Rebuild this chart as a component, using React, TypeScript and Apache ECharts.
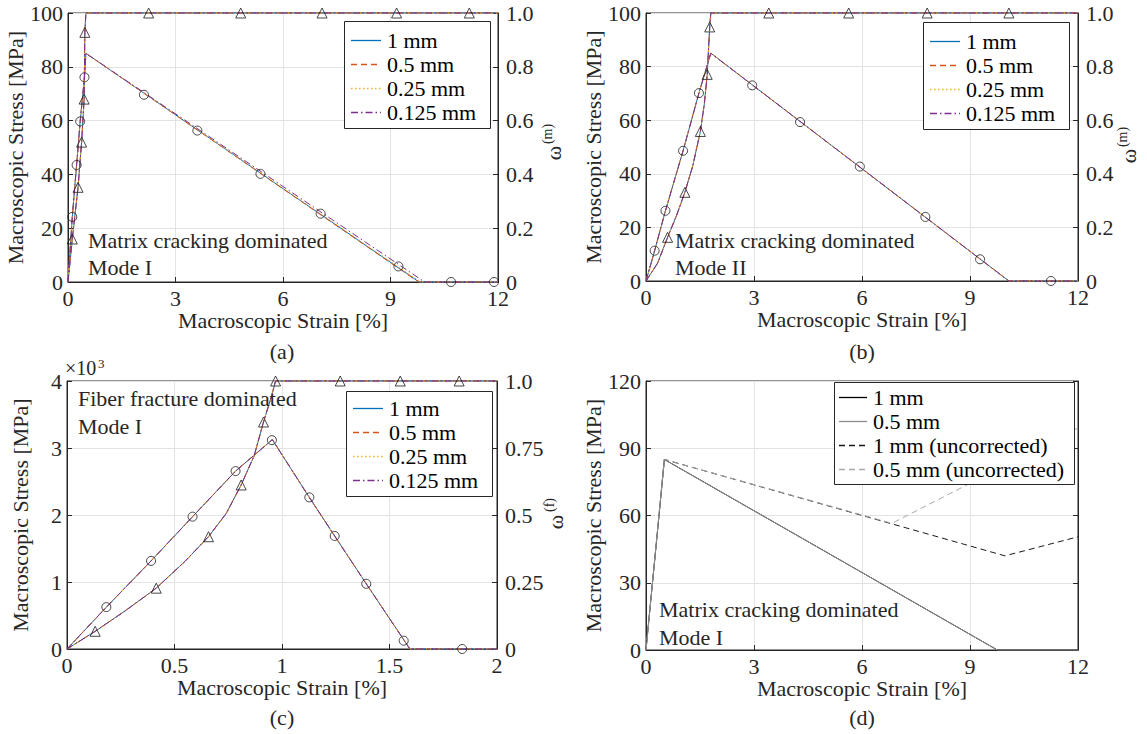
import React, { useEffect, useRef } from 'react';
import * as echarts from 'echarts';

const FONT = '"Liberation Serif", "Times New Roman", serif';
const FS = 22;
const INK = '#262626';
const GRIDC = '#e3e3e3';

const meshNames = ['1 mm', '0.5 mm', '0.25 mm', '0.125 mm'];
const meshColors = ['#0072BD', '#D95319', '#EDB120', '#7E2F8E'];
const meshDash: any[] = ['solid', [6, 4], [1.5, 2.5], [7, 3, 1.5, 3]];

// ---- (a) Matrix cracking, Mode I ----
const aStrain = [0, 0.12, 0.24, 0.34, 0.46, 0.5, 9.8, 12];
const aStress = [0, 24.2, 43.5, 59.7, 76.1, 85, 0, 0];
const aFailStrain = [9.8, 9.78, 9.84, 9.95];
const aDmgStrain = [0, 0.12, 0.28, 0.38, 0.45, 0.47, 0.5, 12];
const aDmg = [0, 0.16, 0.352, 0.52, 0.68, 0.928, 1, 1];
const aCircX = [0.12, 0.24, 0.34, 0.46, 2.12, 3.61, 5.37, 7.05, 9.22, 10.69, 11.89];
const aCircY = [24.2, 43.5, 59.7, 76.1, 69.6, 56.3, 40.2, 25.4, 5.8, 0, 0];
const aTriX = [0.12, 0.28, 0.38, 0.45, 0.47, 2.25, 4.82, 7.09, 9.17, 11.2];
const aTriY = [0.16, 0.352, 0.52, 0.68, 0.928, 1, 1, 1, 1, 1];

// ---- (b) Matrix cracking, Mode II ----
const bStrain = [0, 0.24, 0.54, 1.03, 1.47, 1.8, 10.08, 12];
const bStress = [0, 11.3, 26.2, 48.6, 70.1, 85, 0, 0];
const bDmgStrain = [0, 0.32, 0.6, 0.85, 1.08, 1.3, 1.51, 1.62, 1.7, 1.77, 1.8, 12];
const bDmg = [0, 0.066, 0.163, 0.245, 0.331, 0.43, 0.558, 0.66, 0.771, 0.948, 1, 1];
const bCircX = [0.24, 0.54, 1.03, 1.47, 2.95, 4.28, 5.94, 7.76, 9.28, 11.25];
const bCircY = [11.3, 26.2, 48.6, 70.1, 73, 59.3, 42.7, 23.9, 8.1, 0];
const bTriX = [0.6, 1.08, 1.51, 1.7, 1.77, 3.41, 5.63, 7.81, 10.08];
const bTriY = [0.163, 0.331, 0.558, 0.771, 0.948, 1, 1, 1, 1];

// ---- (c) Fiber fracture, Mode I ----
const cStrain = [0, 0.183, 0.391, 0.584, 0.784, 0.955, 1.127, 1.245, 1.392, 1.595, 2];
const cStress = [0, 625, 1315, 1975, 2655, 3125, 2263, 1687, 973, 0, 0];
const cDmgStrain = [0, 0.131, 0.27, 0.415, 0.55, 0.658, 0.74, 0.81, 0.87, 0.914, 0.95, 0.97, 2];
const cDmg = [0, 0.066, 0.142, 0.227, 0.328, 0.419, 0.505, 0.612, 0.72, 0.847, 0.94, 1, 1];
const cCircX = [0.183, 0.391, 0.584, 0.784, 0.953, 1.127, 1.245, 1.392, 1.566, 1.838];
const cCircY = [625, 1315, 1975, 2655, 3117, 2263, 1687, 973, 124, 0];
const cTriX = [0.131, 0.415, 0.658, 0.81, 0.914, 0.97, 1.271, 1.55, 1.824];
const cTriY = [0.066, 0.227, 0.419, 0.612, 0.847, 1, 1, 1, 1];

// ---- (d) corrected vs uncorrected ----
const dNames = ['1 mm', '0.5 mm', '1 mm (uncorrected)', '0.5 mm (uncorrected)'];
const dColors = ['#000000', '#8c8c8c', '#1a1a1a', '#a8a8a8'];
const dDash: any[] = ['solid', 'solid', [6, 4], [6, 4]];
const dStrain1 = [0, 0.51, 9.76, 12];
const dStress1 = [0, 85, 0, 0];
const dStrain05 = [0, 0.51, 9.76, 12];
const dStress05 = [0, 85, 0, 0];
const dStrainU1 = [0, 0.51, 9.97, 12];
const dStressU1 = [0, 85, 42, 50.5];
const dStrainU05 = [0, 0.51, 6.83, 12];
const dStressU05 = [0, 85, 56.5, 99];

const pairs = (xs: number[], ys: number[]) => xs.map((x, i) => [x, ys[i]]);

const lineS = (name: string, xs: number[], ys: number[], xi: number, yi: number, color: string, dash: any, z = 2) => ({
  type: 'line', name, xAxisIndex: xi, yAxisIndex: yi, data: pairs(xs, ys),
  symbol: 'none', silent: true, clip: false, z,
  lineStyle: { color, width: 1, type: dash }, itemStyle: { color },
});

const markS = (xs: number[], ys: number[], xi: number, yi: number, symbol: string, size: number) => ({
  type: 'scatter', xAxisIndex: xi, yAxisIndex: yi, data: pairs(xs, ys), symbol, symbolSize: size,
  silent: true, clip: false, z: 6,
  itemStyle: { color: 'rgba(0,0,0,0)', borderColor: '#1a1a1a', borderWidth: 1 },
});

const axisBase = {
  axisLine: { show: true, onZero: false, lineStyle: { color: INK, width: 1 } },
  axisTick: { show: true, inside: true, length: 5, lineStyle: { color: INK } },
  nameTextStyle: { fontFamily: FONT, fontSize: FS, color: INK },
};

const xAx = (gridIndex: number, max: number, interval: number) => ({
  ...axisBase, type: 'value', gridIndex, min: 0, max, interval,
  name: 'Macroscopic Strain [%]', nameLocation: 'middle', nameGap: 25,
  axisLabel: { fontFamily: FONT, fontSize: FS, color: INK, margin: 8, lineHeight: 16 },
  splitLine: { show: true, lineStyle: { color: GRIDC, width: 1 } },
});

const yLeft = (gridIndex: number, max: number, interval: number, formatter?: any) => ({
  ...axisBase, type: 'value', gridIndex, position: 'left', min: 0, max, interval,
  name: 'Macroscopic Stress [MPa]', nameLocation: 'middle', nameGap: 36,
  axisLabel: { fontFamily: FONT, fontSize: FS, color: INK, margin: 5, lineHeight: 16, formatter },
  splitLine: { show: true, lineStyle: { color: GRIDC, width: 1 } },
});

const yRight = (gridIndex: number, max: number, interval: number, formatter: any, showLabel = true) => ({
  ...axisBase, type: 'value', gridIndex, position: 'right', min: 0, max, interval,
  axisLabel: { show: showLabel, fontFamily: FONT, fontSize: FS, color: INK, margin: 8, lineHeight: 15, formatter },
  splitLine: { show: false },
});

const fmt1 = (v: number) => (v === 0 ? '0' : v.toFixed(1));
const fmtQ = (v: number) => (v === 0 ? '0' : v === 1 ? '1.0' : String(v));

const txt = (x: number, y: number, text: string, extra: any = {}) => ({
  type: 'text', x, y, silent: true, z: 120,
  style: { text, fontFamily: FONT, fontSize: FS, fill: INK, align: 'left', verticalAlign: 'middle', ...extra },
});
const rtxt = (x: number, y: number, text: string, size: number) => ({
  type: 'text', x, y, rotation: Math.PI / 2, silent: true, z: 120,
  style: { text, fontFamily: FONT, fontSize: size, fill: INK, align: 'center', verticalAlign: 'middle' },
});

// Legend drawn as a boxed key: box position/size, first row centre, row step, sample and text offsets
const legendBox = (
  names: string[], colors: string[], dashes: any[],
  x: number, y: number, w: number, h: number, row0: number, step: number,
  s0: number, s1: number, tx: number,
) => {
  const els: any[] = [
    { type: 'rect', silent: true, z: 100, shape: { x: x + 0.5, y: y + 0.5, width: w, height: h },
      style: { fill: '#ffffff', stroke: INK, lineWidth: 1 } },
  ];
  names.forEach((n, i) => {
    const yy = Math.round(y + row0 + i * step) + 0.5;
    els.push({ type: 'line', silent: true, z: 110,
      shape: { x1: x + s0, y1: yy, x2: x + s1, y2: yy },
      style: { stroke: colors[i], lineWidth: 1.3, lineDash: dashes[i] === 'solid' ? null : dashes[i] } });
    els.push(txt(x + tx, yy, n, { fill: '#000' }));
  });
  return els;
};

function buildOption() {
  const series: any[] = [];
  // (a)
  meshNames.forEach((m, i) => {
    const xs = aStrain.map((x, k) => (k === 6 ? aFailStrain[i] : x));
    series.push(lineS(`a ${m}`, xs, aStress, 0, 0, meshColors[i], meshDash[i]));
    series.push(lineS(`a ω ${m}`, aDmgStrain, aDmg, 0, 1, meshColors[i], meshDash[i]));
  });
  series.push(markS(aCircX, aCircY, 0, 0, 'circle', 9));
  series.push(markS(aTriX, aTriY, 0, 1, 'triangle', 10));
  // (b)
  meshNames.forEach((m, i) => {
    series.push(lineS(`b ${m}`, bStrain, bStress, 1, 2, meshColors[i], meshDash[i]));
    series.push(lineS(`b ω ${m}`, bDmgStrain, bDmg, 1, 3, meshColors[i], meshDash[i]));
  });
  series.push(markS(bCircX, bCircY, 1, 2, 'circle', 9));
  series.push(markS(bTriX, bTriY, 1, 3, 'triangle', 10));
  // (c)
  meshNames.forEach((m, i) => {
    series.push(lineS(`c ${m}`, cStrain, cStress, 2, 4, meshColors[i], meshDash[i]));
    series.push(lineS(`c ω ${m}`, cDmgStrain, cDmg, 2, 5, meshColors[i], meshDash[i]));
  });
  series.push(markS(cCircX, cCircY, 2, 4, 'circle', 9));
  series.push(markS(cTriX, cTriY, 2, 5, 'triangle', 10));
  // (d)
  const dX = [dStrain1, dStrain05, dStrainU1, dStrainU05];
  const dY = [dStress1, dStress05, dStressU1, dStressU05];
  dNames.forEach((m, i) => {
    series.push(lineS(`d ${m}`, dX[i], dY[i], 3, 6, dColors[i], dDash[i], i === 1 ? 4 : 2));
  });

  return {
    animation: false,
    backgroundColor: '#ffffff',
    textStyle: { fontFamily: FONT, fontSize: FS, color: INK },
    grid: [
      { left: 68, top: 13, width: 430, height: 269 },
      { left: 646, top: 13, width: 432, height: 268 },
      { left: 67, top: 381, width: 430, height: 268 },
      { left: 646, top: 381, width: 432, height: 269 },
    ].map((g) => ({ ...g, show: true, borderColor: INK, borderWidth: 1, backgroundColor: 'transparent' })),
    xAxis: [xAx(0, 12, 3), xAx(1, 12, 3), xAx(2, 2, 0.5), xAx(3, 12, 3)],
    yAxis: [
      yLeft(0, 100, 20),
      yRight(0, 1, 0.2, fmt1),
      yLeft(1, 100, 20),
      yRight(1, 1, 0.2, fmt1),
      yLeft(2, 4000, 1000, (v: number) => String(v / 1000)),
      yRight(2, 1, 0.25, fmtQ),
      yLeft(3, 120, 30),
      yRight(3, 120, 30, undefined, false),
    ],
    series,
    graphic: [
      ...legendBox(meshNames, meshColors, meshDash, 344, 21, 146, 107, 18.5, 24, 7, 37, 43),
      ...legendBox(meshNames, meshColors, meshDash, 923, 22, 146, 107, 18.5, 24, 7, 37, 43),
      ...legendBox(meshNames, meshColors, meshDash, 346, 391, 146, 105, 16.5, 24.3, 7, 37, 43),
      ...legendBox(dNames, dColors, dDash, 834, 382, 240, 102, 15, 24, 5, 33, 39),
      txt(282, 351, '(a)', { align: 'center' }),
      txt(862, 351, '(b)', { align: 'center' }),
      txt(282, 717, '(c)', { align: 'center' }),
      txt(862, 717, '(d)', { align: 'center' }),
      txt(88, 240, 'Matrix cracking dominated'),
      txt(88, 267, 'Mode I'),
      txt(675, 240, 'Matrix cracking dominated'),
      txt(675, 267, 'Mode II'),
      txt(78, 398, 'Fiber fracture dominated'),
      txt(78, 426, 'Mode I'),
      txt(659, 609, 'Matrix cracking dominated'),
      txt(659, 637, 'Mode I'),
      txt(65, 368, '×10', { fontSize: 20 }),
      txt(98, 363, '3', { fontSize: 13 }),
      rtxt(553, 153, 'ω', FS),
      rtxt(547, 134, '(m)', 14),
      rtxt(1128, 156, 'ω', FS),
      rtxt(1122, 137, '(m)', 14),
      rtxt(555, 522, 'ω', FS),
      rtxt(549, 505, '(f)', 14),
    ],
  };
}

export default function App() {
  const ref = useRef<HTMLDivElement>(null);
  useEffect(() => {
    const chart = echarts.init(ref.current!, null, { renderer: 'svg' });
    chart.setOption(buildOption() as any);
    return () => chart.dispose();
  }, []);
  return (
    <div
      ref={ref}
      style={{ position: 'absolute', left: 0, top: 0, width: 1147, height: 734, background: '#fff' }}
    />
  );
}
